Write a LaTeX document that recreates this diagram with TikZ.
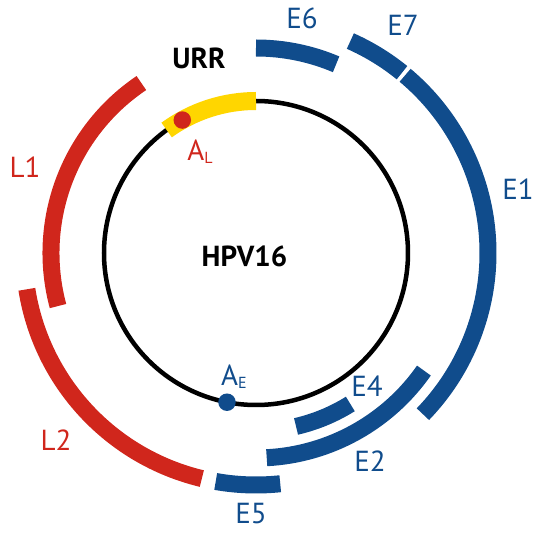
\documentclass[tikz,border=0pt]{standalone}
\usepackage{fontspec}
\setmainfont{PT Sans}
\definecolor{hpvblue}{RGB}{16,76,140}
\definecolor{hpvred}{RGB}{208,38,28}
\definecolor{hpvyellow}{RGB}{255,214,0}
\tikzset{
  orf/.style={line width=17pt},
  lbl/.style={inner sep=0pt, font=\fontsize{29}{29}\selectfont},
  polya/.style={circle, inner sep=0pt, minimum size=17.5pt},
}
\begin{document}
\begin{tikzpicture}[x=1pt, y=1pt]
  \useasboundingbox (-256,-285) rectangle (283,253);
  % genome and URR
  \draw[line width=4.5pt] (0,0) circle[radius=152];
  \draw[orf, line width=18pt, hpvyellow] (90:152) arc[start angle=90, end angle=126, radius=152];
  % early genes: radius / start / end
  \foreach \r/\s/\e in {205/90/67, 232/66/51, 232/50/-44, 205/-35/-87, 178/-58/-77, 232/-84/-100}
    \draw[orf, hpvblue] (\s:\r) arc[start angle=\s, end angle=\e, radius=\r];
  % late genes
  \foreach \r/\s/\e in {205/124/195, 232/189/256.5}
    \draw[orf, hpvred] (\s:\r) arc[start angle=\s, end angle=\e, radius=\r];
  % polyA sites
  \node[polya, fill=hpvred] (AL) at (119:152) {};
  \node[polya, fill=hpvblue] (AE) at (259:152) {};
  \node[lbl, text=hpvred] (ALtext) at (-56,101) {A\raisebox{-3pt}{\fontsize{16}{16}\selectfont L}};
  \node[lbl, text=hpvblue] (AEtext) at (-22,-124) {A\raisebox{-3pt}{\fontsize{16}{16}\selectfont E}};
  % gene names
  \foreach \name/\x/\y in {E6/46/235, E7/147/228, E1/262/64, E4/111/-133, E2/114/-208, E5/-5/-261}
    \node[lbl, text=hpvblue] (\name) at (\x,\y) {\name};
  \foreach \name/\x/\y in {L1/-231/86, L2/-200/-187}
    \node[lbl, text=hpvred] (\name) at (\x,\y) {\name};
  \node[lbl, font=\fontsize{29}{29}\selectfont\bfseries] (URR) at (-57,195) {URR};
  \node[lbl, font=\fontsize{29}{29}\selectfont\bfseries] (HPV) at (-11.5,-3.5) {HPV16};
\end{tikzpicture}
\end{document}
